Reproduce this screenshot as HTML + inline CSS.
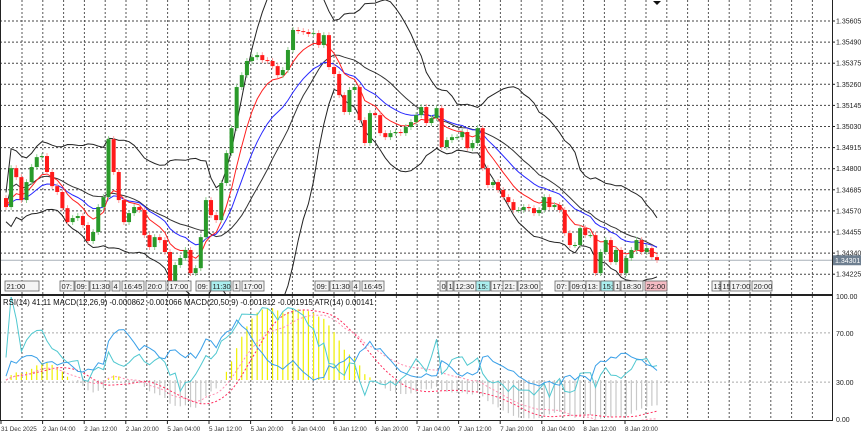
<!DOCTYPE html>
<html><head><meta charset="utf-8"><style>
html,body{margin:0;padding:0;background:#fff;width:864px;height:435px;overflow:hidden}
svg{display:block;font-family:"Liberation Sans","DejaVu Sans",sans-serif}
</style></head><body>
<svg id="chart" width="864" height="435" viewBox="0 0 864 435" xmlns="http://www.w3.org/2000/svg"></svg>
<script>
const closes=[1.34591,1.34803,1.34754,1.34629,1.34727,1.34809,1.34863,1.34869,1.34782,1.34705,1.34673,1.34585,1.34509,1.34531,1.34542,1.34493,1.34406,1.34455,1.34591,1.34645,1.34961,1.34782,1.34629,1.34509,1.34558,1.34591,1.34575,1.34438,1.34373,1.34427,1.34411,1.34346,1.34182,1.34275,1.34313,1.34357,1.34231,1.34258,1.34427,1.34629,1.34547,1.34520,1.34722,1.34885,1.35021,1.35245,1.35310,1.35387,1.35408,1.35419,1.35392,1.35387,1.35359,1.35310,1.35338,1.35447,1.35556,1.35550,1.35545,1.35534,1.35539,1.35474,1.35528,1.35354,1.35316,1.35201,1.35109,1.35229,1.35245,1.35065,1.34940,1.35103,1.35092,1.34994,1.34972,1.34994,1.35000,1.34994,1.35027,1.35054,1.35092,1.35136,1.35049,1.35076,1.35130,1.34918,1.34956,1.34972,1.34972,1.35000,1.34912,1.34940,1.35021,1.34803,1.34711,1.34727,1.34684,1.34645,1.34618,1.34575,1.34575,1.34591,1.34585,1.34558,1.34575,1.34645,1.34591,1.34602,1.34575,1.34449,1.34384,1.34384,1.34476,1.34438,1.34438,1.34231,1.34346,1.34411,1.34291,1.34357,1.34231,1.34313,1.34357,1.34411,1.34346,1.34367,1.34318,1.34302];
const firstOpen=1.34640;
const priceTicks=[1.35605,1.35490,1.35375,1.35260,1.35145,1.35030,1.34915,1.34800,1.34685,1.34570,1.34455,1.34340,1.34225];
const oscTicks=[100,70,30,0];
const timeLabels=["31 Dec 2025","2 Jan 04:00","2 Jan 12:00","2 Jan 20:00","5 Jan 04:00","5 Jan 12:00","5 Jan 20:00","6 Jan 04:00","6 Jan 12:00","6 Jan 20:00","7 Jan 04:00","7 Jan 12:00","7 Jan 20:00","8 Jan 04:00","8 Jan 12:00","8 Jan 20:00"];
const currentPrice=1.34301;

const NS="http://www.w3.org/2000/svg";
const svg=document.getElementById('chart');
function mk(tag,attrs,parent){const e=document.createElementNS(NS,tag);for(const k in attrs)e.setAttribute(k,attrs[k]);(parent||svg).appendChild(e);return e;}
const PR=832;
function yP(p){return 21+(1.35605-p)/0.00115*21.1;}
function yO(v){return 419-v*1.23;}
const N=closes.length;
function xC(i){return 6+i*(651/(N-1));}

const grid=mk('g',{});


for(let x=22;x<PR;x+=20.8){mk('line',{x1:x,y1:0,x2:x,y2:420,stroke:'#555','stroke-dasharray':'2,2','stroke-width':1},grid);}
priceTicks.forEach(p=>{mk('line',{x1:0,y1:yP(p),x2:PR,y2:yP(p),stroke:'#444','stroke-dasharray':'2,2'},grid);});
[70,30].forEach(v=>mk('line',{x1:0,y1:yO(v),x2:PR,y2:yO(v),stroke:'#aaa','stroke-dasharray':'2,2'},grid));

mk('line',{x1:0,y1:yP(currentPrice),x2:PR,y2:yP(currentPrice),stroke:'#a8b0b8','stroke-width':1});

function ema(a,n){const k=2/(n+1);const r=[];a.forEach((v,i)=>r.push(i?r[i-1]+k*(v-r[i-1]):v));return r;}
function sma(a,n){return a.map((v,i)=>{const s=a.slice(Math.max(0,i-n+1),i+1);return s.reduce((x,y)=>x+y,0)/s.length;});}
function std(a,n){const m=sma(a,n);return a.map((v,i)=>{const s=a.slice(Math.max(0,i-n+1),i+1);return Math.sqrt(s.reduce((x,y)=>x+(y-m[i])**2,0)/s.length);});}
const redMA=ema(closes,8), blueMA=ema(closes,16), mid=sma(closes,20), sd=std(closes,20);
const up=mid.map((m,i)=>m+2*Math.max(sd[i],0.0004)), lo=mid.map((m,i)=>m-2*Math.max(sd[i],0.0004));
function line(arr,fy,color,name,dash){
  const d=arr.map((v,i)=>(i?'L':'M')+xC(i).toFixed(1)+','+fy(v).toFixed(1)).join('');
  const p=mk('path',{d:d,fill:'none',stroke:color,'stroke-width':1});
  if(dash)p.setAttribute('stroke-dasharray',dash);
  
  
  return p;
}
const clipM=mk('clipPath',{id:'cm'});mk('rect',{x:0,y:0,width:PR,height:294},clipM);
const main=mk('g',{'clip-path':'url(#cm)'});


[up,lo].forEach((a,j)=>{const p=line(a,yP,'#222',j?'bollinger-lower':'bollinger-upper');main.appendChild(p);});
main.appendChild(line(mid,yP,'#333','bollinger-middle'));
main.appendChild(line(blueMA,yP,'#2828ff','blue-moving-average'));
main.appendChild(line(redMA,yP,'#ff2020','red-moving-average'));

closes.forEach((c,i)=>{
  const o=i?closes[i-1]:firstOpen;
  const hi=Math.max(o,c)+0.00016, lw=Math.min(o,c)-0.00016;
  const g=mk('g',{},main);
  
  
  const col=c>=o?'#2a9a2a':'#ff1a1a';
  const x=xC(i);
  mk('line',{x1:x,y1:yP(hi),x2:x,y2:yP(lw),stroke:c>=o?'#8fcf8f':'#ffa0a0','stroke-width':1},g);
  const y1=yP(Math.max(o,c)),y2=yP(Math.min(o,c));
  mk('rect',{x:x-2,y:y1,width:4,height:Math.max(1,y2-y1),fill:col},g);
});

const boxes=[[5,"21:00",34],[60,"07:",14],[75,"09:",14],[90,"11:30",20],[112,"4",8],[122,"16:45",22],[146,"20:0",20],[168,"17:00",23],[196,"09:",14],[211,"11:30",20,"#aee"],[233,"1",7],[242,"17:00",22],[315,"09:",14],[330,"11:30",20],[352,"4",8],[362,"16:45",22],[440,"0",6],[447,"1",6],[454,"12:30",22],[476,"15:",14,"#aee"],[491,"17:30",22],[503,"21:",14],[518,"23:00",22],[555,"07:",14],[570,"09:00",22],[586,"13:",14],[601,"15:",12,"#aee"],[614,"1",6],[621,"18:30",22],[645,"22:00",22,"#f6bcc4"],[712,"13",8],[721,"15",8],[730,"17:00",20],[752,"20:00",20]];
boxes.forEach(b=>{
  const g=mk('g',{});
  
  
  mk('rect',{x:b[0],y:281,width:b[2],height:10,fill:b[3]||'#f4f4f4',stroke:'#666','stroke-width':0.8},g);
  const t=mk('text',{x:b[0]+1.5,y:289,'font-size':7.5,fill:'#222'},g);t.textContent=b[1];
});

const clipO=mk('clipPath',{id:'co'});mk('rect',{x:0,y:297,width:PR,height:123},clipO);
const osc=mk('g',{'clip-path':'url(#co)'});


const e12=ema(closes,12),e26=ema(closes,26);
const macd=closes.map((c,i)=>e12[i]-e26[i]);
const sig=sma(macd,9);
const mx=Math.max(...macd.map(Math.abs))||1;
const yM=v=>380-v/mx*72;
macd.forEach((v,i)=>{
  const b=mk('line',{x1:xC(i),y1:380,x2:xC(i),y2:yM(v),stroke:v>=0?'#f0f000':'#c8c8c8','stroke-width':1.2},osc);
  
  
});
osc.appendChild(line(sig,yM,'#ff3060','macd-signal','2,2'));
const e50=ema(closes,50),e20b=ema(closes,20);
const m2=closes.map((c,i)=>e20b[i]-e50[i]);
const mx2=Math.max(...m2.map(Math.abs))||1;
osc.appendChild(line(m2,v=>380-v/mx2*65,'#ff8fb0','macd2-line','2,2'));
const rsi=closes.map((c,i)=>{let g=0,l=0;for(let j=Math.max(1,i-13);j<=i;j++){const d=closes[j]-closes[j-1];if(d>0)g+=d;else l-=d;}return g+l?100*g/(g+l):50;});
osc.appendChild(line(rsi,yO,'#50c8d0','rsi-line'));
const atr=closes.map((c,i)=>Math.abs(c-(i?closes[i-1]:firstOpen)));
const atrS=ema(atr,14);const amx=Math.max(...atrS);
osc.appendChild(line(atrS,v=>410-v/amx*90,'#3aa0e8','atr-line'));

const hdr=mk('text',{x:3,y:305,'font-size':7.8,fill:'#111'});


hdr.textContent='RSI(14) 41.11 MACD(12,26,9) -0.000862 -0.001066 MACD(20,50,9) -0.001812 -0.001915 ATR(14) 0.00141';

mk('line',{x1:PR+0.5,y1:0,x2:PR+0.5,y2:421,stroke:'#222'});
mk('line',{x1:0,y1:295,x2:PR,y2:295,stroke:'#222','stroke-width':2});
mk('line',{x1:0,y1:420.5,x2:PR,y2:420.5,stroke:'#222'});
mk('line',{x1:0.5,y1:0,x2:0.5,y2:421,stroke:'#222'});
mk('polygon',{points:'653,1 661,1 657,5',fill:'#111'});

priceTicks.forEach(p=>{
  mk('line',{x1:PR,y1:yP(p),x2:PR+3,y2:yP(p),stroke:'#222'});
  const t=mk('text',{x:PR+4,y:yP(p)+2.5,'font-size':7,fill:'#222'});
  
  
  t.textContent=p.toFixed(5);
});
const cp=mk('rect',{x:PR+1,y:yP(currentPrice)-5,width:28,height:10,fill:'#6e7f90'});


const cpt=mk('text',{x:PR+3,y:yP(currentPrice)+2.5,'font-size':7,fill:'#fff'});cpt.textContent=currentPrice.toFixed(5);
oscTicks.forEach(v=>{
  const t=mk('text',{x:PR+4,y:yO(v)+3,'font-size':7,fill:'#222'});
  
  
  t.textContent=v.toFixed(2);
});

timeLabels.forEach((s,i)=>{
  const x=1+i*41.6;
  const t=mk('text',{x:x,y:431,'font-size':6.3,fill:'#333'});
  
  
  t.textContent=s;
  mk('line',{x1:x,y1:420,x2:x,y2:424,stroke:'#222'});
});
</script>
</body></html>
